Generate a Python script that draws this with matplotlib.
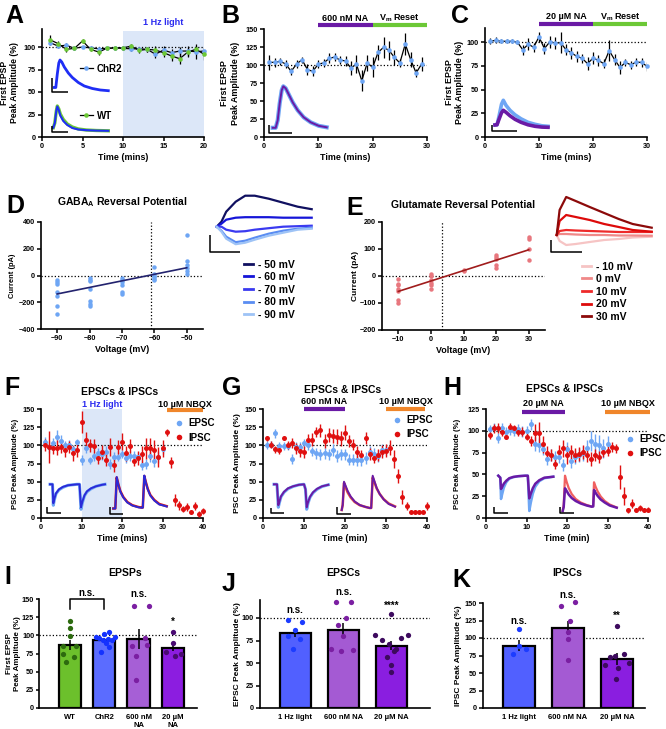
# multi-panel EPSP / EPSC / IPSC figure

import matplotlib
matplotlib.use("Agg")
import matplotlib.pyplot as plt
from matplotlib.lines import Line2D
import numpy as np

W, H = 666, 729

plt.rcParams['font.family'] = ['Liberation Sans', 'DejaVu Sans']
plt.rcParams['font.weight'] = 'bold'
plt.rcParams['axes.labelweight'] = 'bold'
plt.rcParams['mathtext.fontset'] = 'custom'
plt.rcParams['mathtext.bf'] = 'Liberation Sans:bold'
plt.rcParams['mathtext.rm'] = 'Liberation Sans:bold'
plt.rcParams['mathtext.default'] = 'bf'

LBLUE = '#6ea6f4'
RED = '#e01010'
PURPLE = '#6a1aa5'
GREEN = '#6cc836'
ORANGE = '#f0862a'
SHADE = '#dce7f8'

# ---------------- data ----------------
# A: first EPSP amplitude, ChR2 vs WT
a_time = list(range(1, 21))
a_chr2 = [104.8, 101, 102, 98.5, 100, 99, 98, 98.5, 99, 98.5, 98, 98, 97.4, 92, 96.6, 93.7, 95.5, 95.5, 94.8, 95.5]
a_chr2_err = [3, 2, 2, 2, 1.5, 2, 2, 1.5, 1.5, 2, 2, 2, 3, 4, 4, 4, 5, 6, 8, 5]
a_wt = [108, 103.7, 97.4, 98.5, 106.7, 97.4, 94.4, 98.5, 99, 99, 101, 96.3, 97.4, 96.6, 93.7, 90, 87, 94.4, 97.4, 92]
a_wt_err = [5, 3, 3, 2, 2, 2, 3, 2, 2, 2, 2, 3, 3, 4, 5, 5, 6, 5, 4, 6]

# B: 600 nM NA
b_time = list(range(1, 30))
b_epsp = [103.7, 103.7, 105, 101.4, 91.2, 101.4, 107.4, 93.5, 91.2, 101.4, 102.8, 109.3, 111, 106.9, 105.6,
          95.8, 101.4, 78.2, 102.8, 96.8, 117.6, 124.5, 120.4, 110.6, 102.8, 129.2, 107.4, 88.9, 101.4]
b_err = [10, 6, 5, 5, 5, 5, 4, 8, 7, 5, 5, 7, 6, 6, 7, 10, 12, 15, 11, 14, 10, 15, 13, 10, 6, 15, 10, 6, 10]

# C: 20 uM NA
c_time = list(range(1, 31))
c_epsp = [101, 102, 101, 101, 101, 100, 92, 98, 94.7, 105.7, 93.3, 100.4, 99.3, 99.3, 92.2, 88.7, 85.1, 83,
          77.3, 83.3, 80.9, 77.3, 91.1, 81.6, 73.4, 78.7, 76.2, 79, 78.7, 74.5]
c_err = [3, 3, 2, 2, 2, 2, 5, 6, 5, 5, 6, 6, 6, 11, 6, 6, 6, 5, 7, 6, 6, 5, 11, 6, 7, 4, 4, 4, 5, 5]

# D: GABA-A reversal
d_volt = [-90] * 7 + [-80] * 7 + [-70] * 6 + [-60] * 6 + [-50] * 6
d_curr = [-32, -50, -62, -120, -155, -225, -287,
          -20, -32, -42, -100, -187, -212, -225,
          -17, -30, -45, -70, -120, -137,
          62, 12, 0, -12, -25, -37,
          300, 112, 75, 55, 30, 12]
d_fit_v = [-90, -50]
d_fit_i = [-138, 58]
d_rev = -61

# E: glutamate reversal
e_volt = [-10] * 7 + [0] * 6 + [10] * 2 + [20] * 5 + [30] * 4
e_curr = [-12, -28, -35, -47, -57, -88, -100,
          7, 0, -16, -26, -32, -49,
          23, 17,
          77, 70, 64, 40, 30,
          144, 138, 101, 58]
e_fit_v = [-10, 30]
e_fit_i = [-57, 97]
e_rev = 3.3

# F: 1 Hz light, EPSC / IPSC
f_time_e = list(range(1, 31))
f_epsc = [105, 98, 102.6, 111.8, 105.8, 100.3, 101, 94.3, 104, 79.6, 95.7, 79.6, 85, 89.7, 87.4, 91, 74, 84.2,
          84.2, 88, 82.8, 85.6, 85.6, 84.2, 72.7, 74, 85, 78.2, 84.2, 94.8]
f_epsc_err = [7, 8, 7, 9, 8, 6, 7, 6, 5, 7, 6, 5, 6, 7, 7, 8, 7, 6, 6, 6, 7, 7, 6, 6, 7, 7, 8, 8, 8, 7]
f_time_i = list(range(1, 41))
f_ipsc = [100.3, 98, 95.7, 97, 98, 93.4, 98, 88.8, 93.4, 131.6, 108, 100.3, 99, 82.8, 91, 80.5, 98, 72.7, 98,
          105, 88.8, 99, 78.2, 82.8, 87.4, 95.7, 95.7, 93.4, 84.2, 95.7, 117.8, 76.4, 24.4, 17.5, 12, 15.2,
          8.3, 16.6, 6, 9.2]
f_ipsc_err = [8, 22, 8, 10, 8, 10, 8, 10, 9, 15, 10, 9, 10, 9, 10, 9, 12, 9, 10, 12, 10, 10, 6, 10, 12, 14,
              14, 14, 14, 12, 5, 7, 8, 6, 4, 5, 3, 5, 4, 4]

# G: 600 nM NA, EPSC / IPSC
g_time_e = list(range(1, 31))
g_epsc = [100.3, 101, 116.4, 99, 99, 99, 81, 98, 98, 102.6, 101, 92, 88.8, 87.4, 88.8, 87.4, 93.4, 85, 87.4,
          87.4, 80.5, 80.5, 79.6, 79.6, 82.8, 91, 88, 85, 93.4, 93.4]
g_epsc_err = [5, 5, 6, 6, 6, 5, 7, 7, 6, 6, 7, 6, 7, 8, 8, 7, 8, 8, 8, 8, 8, 8, 8, 8, 8, 8, 8, 8, 8, 7]
g_time_i = list(range(1, 41))
g_ipsc = [109.5, 101, 94.3, 93.4, 110.4, 100.3, 103.5, 95.7, 92.5, 91, 107.2, 108, 118.7, 121, 105.8, 114,
          112.7, 111.8, 109.5, 117.3, 105.8, 101, 91, 86.5, 110.4, 88, 82.8, 86.5, 91, 92.5, 97, 81, 57.5,
          29, 16.6, 8.3, 8.3, 8.3, 8.3, 16.6]
g_ipsc_err = [4, 5, 5, 5, 3, 6, 7, 8, 9, 8, 8, 9, 7, 9, 10, 10, 10, 10, 10, 10, 8, 8, 8, 7, 8, 8, 7, 8, 9,
              9, 10, 12, 10, 10, 5, 2, 2, 2, 2, 5]

# H: 20 uM NA, EPSC / IPSC
h_time_e = list(range(1, 31))
h_epsc = [101.5, 103.5, 92, 103, 99, 100.8, 99.6, 101.5, 99, 99.6, 107.4, 84.4, 83.6, 79, 67.5, 72, 69.4,
          70.2, 60.6, 79, 65.2, 70.2, 72, 74, 79.8, 88.2, 84.4, 83.6, 79.8, 84.4]
h_epsc_err = [5, 5, 6, 6, 5, 6, 6, 6, 6, 6, 6, 8, 8, 7, 7, 7, 7, 7, 7, 8, 8, 8, 8, 9, 10, 11, 12, 12, 11, 10]
h_time_i = list(range(1, 41))
h_ipsc = [95, 103, 103.5, 99, 93.2, 104.7, 103, 99, 99, 93.2, 88.2, 98, 98, 84.4, 74, 72, 62.5, 76, 79.8, 72,
          76, 72, 72.9, 76, 72, 67.5, 72, 70.2, 76, 77, 81.7, 79.8, 47.2, 25.3, 8.8, 16.5, 8.8, 11.5, 8.8, 9.6]
h_ipsc_err = [4, 5, 6, 5, 3, 4, 4, 5, 5, 4, 6, 10, 12, 10, 8, 7, 6, 8, 10, 10, 8, 8, 8, 8, 8, 8, 7, 7, 6, 6,
              6, 5, 14, 10, 3, 5, 2, 3, 2, 3]

# I: EPSP summary
i_groups = ['WT', 'ChR2', '600 nM\nNA', '20 µM\nNA']
i_means = [87, 93, 95, 83]
i_sem = [7, 3, 14, 5]
i_points = [[120, 110, 99, 86, 85, 75, 70, 63],
            [105, 101.5, 98, 97.5, 96, 95, 94, 93, 90, 84, 77],
            [140, 141, 96, 85, 87, 72, 39],
            [105, 89, 77, 75, 71]]
i_jitter = [[0, 0, 0, -0.2, 0.18, -0.2, 0.12, -0.1],
            [0.15, 0, -0.25, 0.3, -0.15, 0.1, 0.22, -0.05, 0.05, 0.15, -0.1],
            [-0.14, 0.3, 0.2, -0.19, 0.25, -0.09, -0.09],
            [0, 0, -0.2, 0.22, 0.05]]
i_marks = ['', '', 'n.s.', '*']

# J: EPSC summary
j_groups = ['1 Hz light', '600 nM NA', '20 µM NA']
j_means = [83, 87, 69]
j_sem = [4, 8, 5]
j_points = [[98, 96, 87, 80, 77, 66],
            [118, 118, 100, 92, 80, 66, 63, 64],
            [104, 81, 81, 78, 76, 71, 66, 63, 57, 48, 40]]
j_jitter = [[-0.15, 0.15, 0, -0.15, 0.1, -0.05],
            [-0.15, 0.15, 0.05, -0.1, 0.0, -0.25, -0.05, 0.2],
            [0, -0.35, 0.35, 0.2, -0.2, -0.05, 0.1, 0.05, -0.1, 0, 0]]
j_marks = ['n.s.', 'n.s.', '****']

# K: IPSC summary
k_groups = ['1 Hz light', '600 nM NA', '20 µM NA']
k_means = [89, 115, 70]
k_sem = [8, 10, 9]
k_points = [[113, 88, 84, 77],
            [146, 152, 124, 108, 98, 69],
            [117, 77, 74, 73, 65, 61, 57, 42]]
k_jitter = [[0, 0, 0.15, -0.12],
            [-0.15, 0.15, 0.05, 0, 0, 0],
            [0, 0.15, -0.05, -0.15, 0.25, -0.25, 0.02, -0.02]]
k_marks = ['n.s.', 'n.s.', '**']

# example traces (local units)
tr_a_chr2_t = [0, 1.5, 3, 4.5, 5.7, 7.5, 10, 14, 18, 24, 30, 38, 46, 54]
tr_a_chr2_v = [3.5, 3.5, 17, 28, 31, 29, 24, 18, 13.5, 8.5, 5, 2.5, 1, 0.3]
tr_a_wt_t = [-1, 0.5, 2, 3, 4.5, 6, 9, 13, 18, 24, 32, 42, 54]
tr_a_wt_g = [3.3, 8, 20, 25, 22, 17, 11.5, 7, 4, 2, 1, 0.5, 0.2]
tr_a_wt_b = [3.3, 8, 20, 24.5, 21, 15.5, 10, 6, 3, 1.5, 0.8, 0.4, 0.2]
tr_b_t = [0, 3, 5, 7, 9, 10.6, 13, 16, 20, 25, 31, 38, 46, 54]
tr_b_v = [0.5, 0.5, 8, 25, 38, 42, 40, 34, 26, 18, 11, 6, 2.5, 1]
tr_c_t = [2, 4, 6, 8.5, 10.3, 13, 17, 22, 28, 35, 42, 49, 55]
tr_c_ctl = [3.3, 3.5, 12, 24, 28, 23, 18, 13.5, 9.5, 6, 4, 2.5, 2]
tr_c_na = [3.3, 3.5, 9, 15.5, 18, 16, 12.5, 9, 6, 3.5, 2, 1.2, 1]
tr_d_t = [0, 4.75, 9.5, 19, 28.5, 38, 52, 66.5, 81, 95]
tr_d = {'- 50 mV': [0, 5, 15, 25, 31, 31, 28, 24, 20, 17.5],
        '- 60 mV': [0, 3, 7, 9, 9.5, 9.5, 9.5, 9, 9, 9],
        '- 70 mV': [0, 0, -3, -5, -4.5, -3, -1.5, 0, 0.5, 1],
        '- 80 mV': [0, -4, -10, -15.5, -14, -11, -7, -4, -2, -1],
        '- 90 mV': [0, -5, -12, -17.5, -16, -13, -9, -6, -3, -2]}
tr_d_col = ['#101060', '#1515d8', '#3a3af0', '#5a8df2', '#9ec3f6']
tr_e_t = [0, 2.9, 9.5, 19, 33, 47.5, 62, 76, 95]
tr_e = {'- 10 mV': [0, -6, -10, -9, -7, -5, -4, -2.5, -1.7],
        '0 mV': [0, 1, 1, 0.5, 0, 0, -0.5, -0.5, -0.7],
        '10 mV': [0, 4, 5, 4.5, 4, 3.5, 3, 3, 3],
        '20 mV': [0, 14, 20, 18, 15, 11, 8, 5, 3.3],
        '30 mV': [0, 25, 38, 34, 28, 22, 16, 11, 7.3]}
tr_e_col = ['#f6c4c4', '#f08888', '#ee2a2a', '#dd0a0a', '#8c0a0a']
tr_f_e_t = [0, 2.5, 3.3, 4.5, 6, 9, 13, 18, 27, 29.5, 31, 32.5, 34.5, 37, 41, 46, 52, 55]
tr_f_e_a = [0, 0, -21, -15, -9.5, -5.5, -3, -1, 0, 0, -25, -18, -11.5, -7.5, -4.5, -2, -0.5, 0]
tr_f_e_b = [0, 0, -19, -14, -9, -5, -2.5, -1, 0, 0, -23, -17, -11, -7, -4, -2, -0.5, 0]
tr_f_i_t = [0, 2, 3.4, 5, 7, 10, 14, 19, 25, 28, 29.5, 31, 32.5, 34.5, 37, 41, 46, 50, 53.4]
tr_f_i_a = [0, 0, 31, 24.5, 17.5, 11.5, 6.5, 3.3, 1.5, 1, 1, 32.5, 26.5, 19.5, 13.5, 8.5, 4.5, 3.3, 2.3]
tr_f_i_b = [0, 0, 31.5, 24, 17, 11, 6, 3, 1.2, 0.8, 0.8, 33, 26, 19, 13, 8, 4, 3, 2]
tr_g_e_t = [0, 3, 4.3, 5.5, 7, 10, 14, 19, 25, 30, 31.5, 32.7, 34, 36, 39, 43, 48, 54.3]
tr_g_e_a = [0, 0, -23, -18, -12.5, -8, -4.5, -2.2, -0.5, 0, -5, -25, -19, -13, -8.5, -5, -2.2, -0.5]
tr_g_e_b = [0, 0, -21, -17, -12, -7.5, -4, -2, -0.5, 0, -5, -23, -18, -12.5, -8, -4.5, -2, -0.5]
tr_g_i_t = [0, 1, 2.3, 4, 6, 9, 13, 18, 24, 28, 29.5, 31, 33, 35, 38, 42, 47, 53.3]
tr_g_i_a = [0, 5, 27, 22.5, 17.5, 12.5, 8, 4.8, 3, 2, 2, 32.5, 27, 21.5, 16, 10.8, 6.5, 3.6]
tr_g_i_b = [0, 5, 28.3, 24, 19, 13.5, 8.5, 5, 3, 2, 2, 34.3, 28, 22, 16, 10.5, 6, 3.3]
tr_h_e_t = [0, 2, 2.7, 4, 5.5, 8, 11, 15, 20, 27, 29.5, 31, 32.5, 34.5, 37, 41, 46, 55]
tr_h_e_a = [0, -2, -23.3, -18, -12, -6.5, -3, -1.5, -0.5, 0, 0, -35.3, -27, -18, -11, -5.5, -2.5, -1]
tr_h_e_b = [0, -2, -13.3, -11, -8, -5, -2.5, -1.2, -0.5, 0, 0, -22.7, -18, -12.5, -8, -4.5, -2, -1]
tr_h_i_t = [0, 1, 2.3, 4, 6, 9, 13, 18, 24, 29, 30.5, 31.3, 33, 35, 38, 42, 47, 54]
tr_h_i_a = [0, 6, 35.3, 29, 23, 17, 12, 8.5, 6, 4.5, 5, 28.7, 24, 19.5, 14.5, 10, 6.5, 3.5]
tr_h_i_b = [0, 4, 22.7, 20, 16.5, 13, 10, 7.5, 5.5, 4.3, 4.5, 21, 18, 15, 11.5, 8.5, 5.5, 3.3]


# ---------------- helpers ----------------
def px_axes(fig, left, top, right, bottom):
    ax = fig.add_axes([left / W, 1 - bottom / H, (right - left) / W, (bottom - top) / H])
    ax._px = (left, right)
    return ax


def style(ax):
    for s in ['top', 'right']:
        ax.spines[s].set_visible(False)
    for s in ['left', 'bottom']:
        ax.spines[s].set_linewidth(1.2)
    ax.tick_params(direction='out', length=3, width=1.1, labelsize=5.2, pad=1.5)


def ylab(ax, text, size, right_px):
    # place y label so that its right edge sits at right_px
    left, right = ax._px
    ax.set_ylabel(text, fontsize=size)
    ax.yaxis.set_label_coords((right_px - left) / (right - left), 0.5)


def xlab(ax, text):
    ax.set_xlabel(text, fontsize=6.4, labelpad=2)


def fig_text(fig, x, y, s, **kw):
    fig.text(x / W, 1 - y / H, s, **kw)


def inset(fig, x0, y0, l, r, up, down):
    # one data unit = one pixel, origin at trace start / baseline
    ax = px_axes(fig, x0 - l, y0 - up, x0 + r, y0 + down)
    ax.set_xlim(-l, r)
    ax.set_ylim(-down, up)
    ax.axis('off')
    return ax


def scalebar(ax, x, y, w, h):
    ax.plot([x, x, x + w], [y + h, y, y], color='k', lw=1.1, solid_capstyle='butt')


def epsp_series(ax, t, v, err, color):
    ax.errorbar(t, v, yerr=err, fmt='-', color='k', lw=0.9, elinewidth=0.9, capsize=0, zorder=3)
    ax.plot(t, v, 'o', color=color, ms=3.3, mec='none', zorder=4, clip_on=False)


def psc_series(ax, t, v, err, color):
    ax.errorbar(t, v, yerr=err, fmt='o', color=color, ms=3.6, mec='none', elinewidth=1.0,
                capsize=0, zorder=3, clip_on=False)


def treatment(ax, x0, x1, ybar, ytxt, label, color):
    ax.plot([x0, x1], [ybar, ybar], color=color, lw=3, solid_capstyle='butt', clip_on=False)
    ax.text((x0 + x1) / 2, ytxt, label, ha='center', va='center', fontsize=6.5)


def bar_panel(ax, groups, means, sem, points, jitter, colors, dotcolors, width):
    x = np.arange(len(groups))
    ax.bar(x, means, width=width, color=colors, edgecolor='k', lw=1.6, zorder=2)
    ax.errorbar(x, means, yerr=sem, fmt='none', ecolor='k', elinewidth=1.1, capsize=0, zorder=3)
    for i in range(len(groups)):
        ax.plot(x[i] + np.array(jitter[i]), points[i], 'o', color=dotcolors[i], ms=3.8, mec='none',
                zorder=4, clip_on=False)
    ax.axhline(100, ls=':', color='k', lw=0.9, zorder=1)
    ax.set_xticks(x)
    ax.set_xticklabels(groups, fontsize=5.5)
    ax.tick_params(axis='x', length=0, pad=4)


def main():
    fig = plt.figure(figsize=(W / 100, H / 100), dpi=100)
    legkw = dict(frameon=False, borderpad=0, borderaxespad=0)

    # ---- A ----
    ax = px_axes(fig, 42, 29, 204, 137)
    style(ax)
    ax.axvspan(10, 20, ymin=0, ymax=118 / 120, color=SHADE, lw=0, zorder=0)
    ax.axhline(100, ls=':', color='k', lw=0.9, zorder=1)
    epsp_series(ax, a_time, a_chr2, a_chr2_err, LBLUE)
    epsp_series(ax, a_time, a_wt, a_wt_err, GREEN)
    ax.set_xlim(0, 20)
    ax.set_ylim(0, 120)
    ax.set_xticks([0, 5, 10, 15, 20])
    ax.set_yticks([0, 25, 50, 75, 100])
    xlab(ax, 'Time (mins)')
    ylab(ax, 'First EPSP\nPeak Amplitude (%)', 6.2, 19.5)
    ax.text(15, 122, '1 Hz light', color='#2b2bf0', ha='center', va='bottom', fontsize=6.5)
    hs = [Line2D([], [], color='k', lw=0.9, marker='o', ms=3.3, mfc=LBLUE, mec='none'),
          Line2D([], [], color='k', lw=0.9, marker='o', ms=3.3, mfc=GREEN, mec='none')]
    ax.legend(hs, ['ChR2', 'WT'], loc='upper left', bbox_to_anchor=(0.235, 0.68), fontsize=7,
              handlelength=1.3, handletextpad=0.4, labelspacing=3.8, **legkw)

    t = inset(fig, 54.3, 91, 5, 58, 36, 4)
    t.plot(tr_a_chr2_t, tr_a_chr2_v, color='#1f2ef5', lw=2)
    scalebar(t, -2.3, -1, 16, 14)
    t = inset(fig, 54.3, 131, 5, 58, 30, 4)
    t.plot(tr_a_wt_t, tr_a_wt_g, color=GREEN, lw=2.4)
    t.plot(tr_a_wt_t, tr_a_wt_b, color='#1f2ef5', lw=1.5)
    scalebar(t, -2.6, -0.7, 16.6, 5.7)

    # ---- B ----
    ax = px_axes(fig, 264, 29, 427, 137)
    style(ax)
    ax.axhline(100, ls=':', color='k', lw=0.9, zorder=1)
    epsp_series(ax, b_time, b_epsp, b_err, LBLUE)
    ax.set_xlim(0, 30)
    ax.set_ylim(0, 150)
    ax.set_xticks([0, 10, 20, 30])
    ax.set_yticks([0, 25, 50, 75, 100, 125, 150])
    xlab(ax, 'Time (mins)')
    ylab(ax, 'First EPSP\nPeak Amplitude (%)', 6.4, 239.5)
    treatment(ax, 10, 20, 155.6, 165, '600 nM NA', PURPLE)
    treatment(ax, 20, 30, 155.6, 165, 'V$_m$ Reset', GREEN)
    t = inset(fig, 272.7, 128.3, 6, 58, 46, 7)
    t.plot(tr_b_t, tr_b_v, color=LBLUE, lw=3)
    t.plot(tr_b_t, tr_b_v, color=PURPLE, lw=1.4)
    scalebar(t, -3.4, -5, 22.4, 8.3)

    # ---- C ----
    ax = px_axes(fig, 485, 28, 647, 137)
    style(ax)
    ax.axhline(100, ls=':', color='k', lw=0.9, zorder=1)
    epsp_series(ax, c_time, c_epsp, c_err, LBLUE)
    ax.set_xlim(0, 30)
    ax.set_ylim(0, 115)
    ax.set_xticks([0, 10, 20, 30])
    ax.set_yticks([0, 25, 50, 75, 100])
    xlab(ax, 'Time (mins)')
    ylab(ax, 'First EPSP\nPeak Amplitude (%)', 6.4, 464)
    treatment(ax, 10, 20, 119.3, 126.7, '20 µM NA', PURPLE)
    treatment(ax, 20, 30, 119.3, 126.7, 'V$_m$ Reset', GREEN)
    t = inset(fig, 493, 128.3, 4, 58, 32, 5)
    t.plot(tr_c_t, tr_c_ctl, color=LBLUE, lw=2.6)
    t.plot(tr_c_t, tr_c_na, color=PURPLE, lw=2.6)
    scalebar(t, -1.3, -2.7, 25, 6)

    # ---- D ----
    ax = px_axes(fig, 41, 222, 203, 329)
    style(ax)
    ax.axhline(0, ls=':', color='k', lw=0.9)
    ax.axvline(d_rev, ls=':', color='k', lw=0.9)
    ax.plot(d_volt, d_curr, 'o', color=LBLUE, ms=3.2, mec='none')
    ax.plot(d_fit_v, d_fit_i, color='#23236e', lw=1.2)
    ax.set_xlim(-95, -45)
    ax.set_ylim(-400, 400)
    ax.set_xticks([-90, -80, -70, -60, -50])
    ax.set_yticks([-400, -200, 0, 200, 400])
    xlab(ax, 'Voltage (mV)')
    ylab(ax, 'Current (pA)', 5.4, 16)
    fig_text(fig, 122, 202, 'GABA$_A$ Reversal Potential', ha='center', va='center', fontsize=7.5)
    t = inset(fig, 216.7, 226.7, 10, 98, 35, 28)
    hs = []
    for (lab, v), c in zip(tr_d.items(), tr_d_col):
        t.plot(tr_d_t, v, color=c, lw=1.6)
        hs.append(Line2D([], [], color=c, lw=2))
    scalebar(t, -6.7, -25, 30, 16.7)
    fig.legend(hs, list(tr_d.keys()), loc='upper left', bbox_to_anchor=(244 / W, 1 - 259.5 / H),
               fontsize=7.5, handlelength=0.9, handletextpad=0.4, labelspacing=0.25, **legkw)

    # ---- E ----
    ax = px_axes(fig, 382, 222, 545, 330)
    style(ax)
    ax.axhline(0, ls=':', color='k', lw=0.9)
    ax.axvline(e_rev, ls=':', color='k', lw=0.9)
    ax.plot(e_volt, e_curr, 'o', color='#e8777e', ms=3.2, mec='none')
    ax.plot(e_fit_v, e_fit_i, color='#a01c1c', lw=1.2)
    ax.set_xlim(-15, 35)
    ax.set_ylim(-200, 200)
    ax.set_xticks([-10, 0, 10, 20, 30])
    ax.set_yticks([-200, -100, 0, 100, 200])
    xlab(ax, 'Voltage (mV)')
    ylab(ax, 'Current (pA)', 6, 359)
    fig_text(fig, 463, 205, 'Glutamate Reversal Potential', ha='center', va='center', fontsize=7.5)
    t = inset(fig, 556.7, 235, 8, 98, 42, 19)
    hs = []
    for (lab, v), c in zip(tr_e.items(), tr_e_col):
        t.plot(tr_e_t, v, color=c, lw=1.6)
        hs.append(Line2D([], [], color=c, lw=2))
    scalebar(t, -6, -16.7, 31, 11.7)
    fig.legend(hs, list(tr_e.keys()), loc='upper left', bbox_to_anchor=(582 / W, 1 - 261.5 / H),
               fontsize=7.5, handlelength=0.9, handletextpad=0.4, labelspacing=0.25, **legkw)

    # ---- F, G, H ----
    psc = [
        (41, 203, 150, f_time_e, f_epsc, f_epsc_err, f_time_i, f_ipsc, f_ipsc_err, (0.82, 0.915),
         'Time (mins)', 5.6, 19),
        (263, 427, 150, g_time_e, g_epsc, g_epsc_err, g_time_i, g_ipsc, g_ipsc_err, (0.786, 0.945),
         'Time (min)', 6.1, 241),
        (486, 648, 125, h_time_e, h_epsc, h_epsc_err, h_time_i, h_ipsc, h_ipsc_err, (0.858, 0.77),
         'Time (min)', 5.6, 461),
    ]
    axs = []
    for left, right, top, te, ve, ee, ti, vi, ei, leg, xl, ysz, yright in psc:
        ax = px_axes(fig, left, 409, right, 518)
        style(ax)
        ax.axhline(100, ls=':', color='k', lw=0.9, zorder=1)
        psc_series(ax, te, ve, ee, LBLUE)
        psc_series(ax, ti, vi, ei, RED)
        ax.set_xlim(0, 40)
        ax.set_ylim(0, top)
        ax.set_xticks([0, 10, 20, 30, 40])
        ax.set_yticks(np.arange(0, top + 1, 25))
        xlab(ax, xl)
        ylab(ax, 'PSC Peak Amplitude (%)', ysz, yright)
        hs = [Line2D([], [], ls='none', marker='o', color=LBLUE, ms=4, mec='none'),
              Line2D([], [], ls='none', marker='o', color=RED, ms=4, mec='none')]
        ax.legend(hs, ['EPSC', 'IPSC'], loc='upper left', bbox_to_anchor=leg, fontsize=7,
                  handlelength=1, handletextpad=0.5, labelspacing=0.45, **legkw)
        axs.append(ax)
    axf, axg, axh = axs
    axf.axvspan(10, 20, color=SHADE, lw=0, zorder=0)
    axf.text(15, 156, '1 Hz light', color='#2b2bf0', ha='center', va='center', fontsize=6.5)
    treatment(axf, 31, 40, 149, 156, '10 µM NBQX', ORANGE)
    treatment(axg, 10, 20, 150, 161, '600 nM NA', PURPLE)
    treatment(axg, 30, 39.6, 150, 161, '10 µM NBQX', ORANGE)
    treatment(axh, 9, 19.5, 121.9, 131, '20 µM NA', PURPLE)
    treatment(axh, 29.5, 40.5, 121.9, 131, '10 µM NBQX', ORANGE)
    for x, y in [(120, 392), (343, 390), (565, 389)]:
        fig_text(fig, x, y, 'EPSCs & IPSCs', ha='center', va='center', fontsize=7.5)

    dblue = '#2a2ad8'
    t = inset(fig, 50, 484.3, 4, 57, 4, 30)
    t.plot(tr_f_e_t, tr_f_e_a, color=LBLUE, lw=2.2)
    t.plot(tr_f_e_t, tr_f_e_b, color=dblue, lw=1.4)
    scalebar(t, -2.7, -28.4, 13.4, 5.4)
    t = inset(fig, 113.3, 508.5, 5, 56, 36, 7)
    t.plot(tr_f_i_t, tr_f_i_a, color=RED, lw=1.8)
    t.plot(tr_f_i_t, tr_f_i_b, color=dblue, lw=1.4)
    scalebar(t, -3.3, -5.8, 13.3, 7.6)
    t = inset(fig, 274, 484.3, 5, 57, 4, 30)
    t.plot(tr_g_e_t, tr_g_e_a, color=LBLUE, lw=2.2)
    t.plot(tr_g_e_t, tr_g_e_b, color=PURPLE, lw=1.4)
    scalebar(t, -3, -28.4, 13.3, 5)
    t = inset(fig, 341.7, 510, 6, 56, 37, 6)
    t.plot(tr_g_i_t, tr_g_i_a, color='#e84a3a', lw=1.8)
    t.plot(tr_g_i_t, tr_g_i_b, color=PURPLE, lw=1.4)
    scalebar(t, -4.4, -4.3, 13.4, 7.6)
    t = inset(fig, 498.3, 475.7, 6, 58, 4, 39)
    t.plot(tr_h_e_t, tr_h_e_a, color=LBLUE, lw=1.8)
    t.plot(tr_h_e_t, tr_h_e_b, color=PURPLE, lw=1.8)
    scalebar(t, -4, -37, 14, 6)
    t = inset(fig, 562.7, 511, 4, 57, 38, 4)
    t.plot(tr_h_i_t, tr_h_i_a, color='#f06060', lw=1.6)
    t.plot(tr_h_i_t, tr_h_i_b, color=PURPLE, lw=1.8)
    scalebar(t, -2.7, -2.3, 14, 6.6)

    # ---- I ----
    ax = px_axes(fig, 39, 599, 197, 708)
    style(ax)
    ax.tick_params(axis='y', length=2.5, pad=1)
    bar_panel(ax, i_groups, i_means, i_sem, i_points, i_jitter,
              ['#6cc02c', '#5b6cff', '#a65fd6', '#8c1de0'],
              ['#2d6a0f', '#1432ff', '#7b1fa2', '#4a0a72'], 0.65)
    ax.set_xlim(-0.9, 3.7)
    ax.set_ylim(0, 150)
    ax.set_yticks([0, 25, 50, 75, 100, 125, 150])
    ylab(ax, 'First EPSP\nPeak Amplitude (%)', 5.8, 21)
    ax.plot([0, 0, 1, 1], [136, 150, 150, 136], color='k', lw=1.1, clip_on=False)
    ax.text(0.5, 151, 'n.s.', ha='center', va='bottom', fontsize=7)
    ax.text(2, 150, i_marks[2], ha='center', va='bottom', fontsize=7)
    ax.text(3, 112, i_marks[3], ha='center', va='bottom', fontsize=7)
    fig_text(fig, 125, 573, 'EPSPs', ha='center', va='center', fontsize=7.5)

    # ---- J ----
    ax = px_axes(fig, 260, 600, 430, 708)
    style(ax)
    bar_panel(ax, j_groups, j_means, j_sem, j_points, j_jitter,
              ['#5160ff', '#a45ad3', '#8a1ee0'], ['#1c3cff', '#7b1fa2', '#3d0a5e'], 0.65)
    ax.set_xlim(-0.73, 2.8)
    ax.set_ylim(0, 120)
    ax.set_yticks([0, 25, 50, 75, 100])
    ylab(ax, 'EPSC Peak Amplitude (%)', 6, 241)
    for x, y, m in zip(range(3), [103, 123, 108], j_marks):
        ax.text(x, y, m, ha='center', va='bottom', fontsize=7)
    fig_text(fig, 343, 573, 'EPSCs', ha='center', va='center', fontsize=7.5)

    # ---- K ----
    ax = px_axes(fig, 483, 603, 645, 708)
    style(ax)
    bar_panel(ax, k_groups, k_means, k_sem, k_points, k_jitter,
              ['#5160ff', '#a45ad3', '#8a1ee0'], ['#1c3cff', '#7b1fa2', '#3d0a5e'], 0.65)
    ax.set_xlim(-0.73, 2.57)
    ax.set_ylim(0, 150)
    ax.set_yticks([0, 25, 50, 75, 100, 125, 150])
    ylab(ax, 'IPSC Peak Amplitude (%)', 6, 462)
    for x, y, m in zip(range(3), [117, 155, 125], k_marks):
        ax.text(x, y, m, ha='center', va='bottom', fontsize=7)
    fig_text(fig, 567, 573, 'IPSCs', ha='center', va='center', fontsize=7.5)

    # panel letters
    for s, x, y in [('A', 5, 4), ('B', 221, 4), ('C', 451, 4), ('D', 6, 194), ('E', 346, 196),
                    ('F', 4, 376), ('G', 222, 376), ('H', 443, 376), ('I', 4, 565), ('J', 222, 572),
                    ('K', 452, 568)]:
        fig_text(fig, x, y, s, ha='left', va='top', fontsize=18, fontweight='bold')

    fig.savefig('out.png', dpi=100)


if __name__ == "__main__":
    main()
